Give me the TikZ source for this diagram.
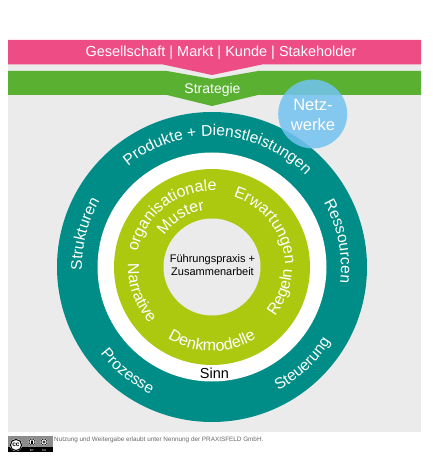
\documentclass[tikz,border=0pt]{standalone}
\usepackage{fontspec}
\setmainfont{Liberation Sans}
\usetikzlibrary{decorations.text}
\definecolor{pinkband}{HTML}{EE4C85}
\definecolor{greenband}{HTML}{5AB031}
\definecolor{teal1}{HTML}{008C87}
\definecolor{lime1}{HTML}{ACC90F}
\definecolor{gray1}{HTML}{EBEBEB}
\definecolor{netz}{HTML}{72C3F2}
\definecolor{foot}{HTML}{666666}
\tikzset{
  label1/.style={text=white,font=\fontsize{14.5}{18}\selectfont,inner sep=0pt},
  label2/.style={text=black,font=\fontsize{11}{13.5}\selectfont,inner sep=0pt,align=center},
}
\newcommand{\outerfs}{\fontsize{15.6}{18}\selectfont}
\newcommand{\innerfs}{\fontsize{16}{18}\selectfont}
\newcommand{\arctext}[5]{%
  \path[decorate,decoration={text along path,text color=white,text align=center,
    text={|#5|#4}}]
    ([shift={(#1:#3pt)}]c) arc[start angle=#1,end angle=#2,radius=#3pt];}
\begin{document}
\begin{tikzpicture}[x=1pt,y=1pt]
\useasboundingbox (0,0) rectangle (433,461);
\fill[white] (0,0) rectangle (433,461);
\coordinate (c) at (212,194);
% bands
\fill[gray1] (8,29) rectangle (421,397);
\fill[greenband] (8,390) -- (167,390) -- (212,382) -- (258,390) -- (421,390) -- (421,366) -- (258,366) -- (212,355) -- (167,366) -- (8,366) -- cycle;
\fill[pinkband] (8,421) -- (421,421) -- (421,396.5) -- (262,396.5) -- (212,386) -- (163,396.5) -- (8,396.5) -- cycle;
\node[label1] (gesellschaft) at (221,408.5) {Gesellschaft | Markt | Kunde | Stakeholder};
\node[label1,font=\fontsize{14}{17}\selectfont] (strategie) at (212.5,371.5) {Strategie};
% rings
\fill[teal1] (c) circle[radius=155pt];
\fill[white] (c) circle[radius=114.5pt];
\fill[lime1] (c) circle[radius=98pt];
\fill[gray1] (c) circle[radius=48.5pt];
% outer labels
\arctext{137}{37}{131}{Produkte + Dienstleistungen}{\outerfs}
\arctext{190.5}{140.5}{130}{Strukturen}{\outerfs}
\arctext{36.5}{-13.5}{129}{Ressourcen}{\outerfs}
\arctext{-71}{-23}{140}{Steuerung}{\outerfs}
\arctext{206}{256}{141}{Prozesse}{\outerfs}
% inner labels
\arctext{190}{65}{76}{organisationale}{\innerfs}
\arctext{172}{72}{57}{Muster}{\innerfs}
\arctext{80}{-5}{73}{Erwartungen}{\innerfs}
\arctext{-50}{10}{80}{Regeln}{\innerfs}
\arctext{225}{315}{84}{Denkmodelle}{\innerfs}
\arctext{165}{235}{84}{Narrative}{\innerfs}
% centre
\node[label2] (fuehrung) at (212.5,196) {Führungspraxis +\\Zusammenarbeit};
\node[inner sep=0pt,font=\fontsize{14.5}{18}\selectfont] (sinn) at (214.5,88) {Sinn};
% netzwerke
\fill[netz,opacity=.85] (312.7,347) circle[radius=34.5pt];
\node[label1,font=\fontsize{16.5}{20.5}\selectfont,align=center] (netzwerke) at (313,346) {Netz-\\werke};
% cc badge
\fill[black!45] (8,9) rectangle (53,25);
\fill[black] (8,9) rectangle (53,13.5);
\fill[white] (16,16) circle[radius=6.2pt];
\draw[black,line width=1pt] (16,16) circle[radius=5.6pt];
\node[inner sep=0pt,font=\bfseries\fontsize{6.5}{7}\selectfont] (cc) at (16,16) {cc};
\fill[white] (32,19) circle[radius=3.6pt];
\draw[black,line width=.5pt] (32,19) circle[radius=3pt];
\fill[black] (32,20.3) circle[radius=.6pt];
\fill[black] (31.3,16.7) rectangle (32.7,19.6);
\fill[white] (44,19) circle[radius=3.6pt];
\draw[black,line width=.5pt] (44,19) circle[radius=3pt];
\draw[black,line width=.5pt] (44,19) circle[radius=1.3pt];
\node[inner sep=0pt,text=white,font=\fontsize{3}{3}\selectfont] (by) at (32,11) {BY};
\node[inner sep=0pt,text=white,font=\fontsize{3}{3}\selectfont] (sa) at (44,11) {SA};
\node[anchor=west,inner sep=0pt,text=foot,font=\fontsize{6.35}{8}\selectfont] (foottext) at (54,21) {Nutzung und Weitergabe erlaubt unter Nennung der PRAXISFELD GmbH.};
\end{tikzpicture}
\end{document}
